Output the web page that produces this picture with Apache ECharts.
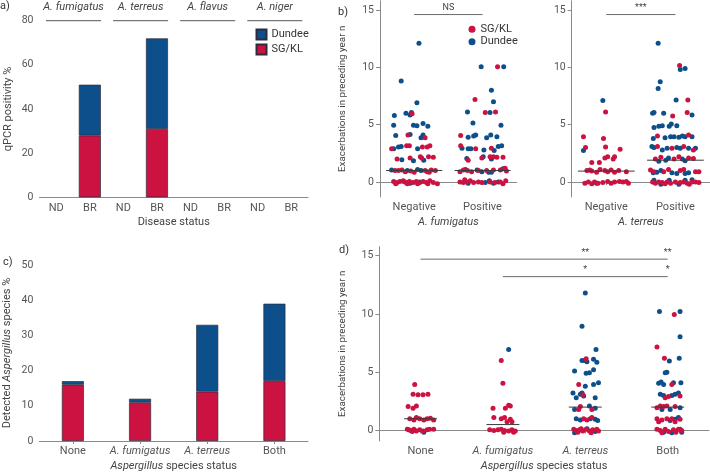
<!DOCTYPE html>
<html><head><meta charset="utf-8">
<script src="https://cdn.jsdelivr.net/npm/echarts@6/dist/echarts.min.js"></script>
<style>html,body{margin:0;padding:0;background:#fff}#c{width:710px;height:473px}</style>
</head><body><div id="c"></div>
<script>
const FONT = 'Roboto, "DejaVu Sans Condensed", sans-serif';
const FS = 11, TFS = 10.5, LONG_FS = 9.8;
const BLUE = '#0c4f8b', RED = '#cb1240';
const AXIS = '#8a8a8a', LABEL = '#555', NAME = '#444';

// ---- Panel a ----
const aCategories = ['ND','BR','ND','BR','ND','BR','ND','BR'];
const aSpecies = ['A. fumigatus','A. terreus','A. flavus','A. niger'];
const aSGKL = [0,28,0,31,0,0,0,0];
const aDundee = [0,23,0,41,0,0,0,0];

// ---- Panel c ----
const cCategories = ['None','A. fumigatus','A. terreus','Both'];
const cSGKL = [16,11,14,17];
const cDundee = [1,1,19,22];

// ---- Panel b ----
const bCategories = ['Negative','Positive'];
const bFumDundee = [[0.57,12.1],[0.31,8.8],[0.54,6.9],[0.21,5.8],[0.38,6.0],[0.44,5.85],[0.46,6.05],[0.20,4.95],[0.49,4.95],[0.54,4.9],[0.63,5.1],[0.70,4.85],[0.23,4.05],[0.44,4.15],[0.60,3.85],[0.63,4.1],[0.20,2.9],[0.27,3.05],[0.31,3.1],[0.55,2.9],[0.32,1.95],[0.49,1.85],[0.64,1.9],[0.17,1.05],[0.40,1.0],[0.55,1.1],[0.60,1.0],[0.44,-0.1],[0.58,0.0],[0.35,0.05],
 [1.48,10.05],[1.81,10.05],[1.63,8.0],[1.66,7.0],[1.28,6.1],[1.61,6.05],[1.36,5.15],[1.77,4.95],[1.29,3.9],[1.37,4.0],[1.40,4.1],[1.56,3.85],[1.62,4.1],[1.71,3.95],[1.20,2.95],[1.29,2.9],[1.33,2.9],[1.52,2.8],[1.67,2.75],[1.73,3.1],[1.78,3.15],[1.27,2.05],[1.51,2.2],[1.63,2.0],[1.25,1.1],[1.42,1.05],[1.49,0.9],[1.59,0.85],[1.63,0.85],[1.80,1.15],[1.29,-0.1],[1.54,-0.05],[1.60,0.1],[1.66,-0.1],[1.73,0.0]];
const bFumSGKL = [[0.47,5.95],[0.41,4.1],[0.66,3.85],[0.17,2.9],[0.39,3.15],[0.43,3.15],[0.62,3.05],[0.69,3.05],[0.73,3.15],[0.25,2.0],[0.44,2.1],[0.59,2.2],[0.61,2.1],[0.71,2.2],[0.78,2.15],[0.22,1.0],[0.27,1.0],[0.32,1.05],[0.37,0.9],[0.45,0.95],[0.50,0.85],[0.66,1.0],[0.69,0.9],[0.75,1.05],[0.81,1.0],[0.72,0.85],[0.20,0.05],[0.25,-0.05],[0.29,0.05],[0.34,0.1],[0.38,-0.05],[0.43,0.05],[0.48,-0.05],[0.53,0.05],[0.58,-0.05],[0.63,0.05],[0.68,-0.05],[0.73,0.1],[0.78,-0.05],[0.84,-0.15],[0.23,-0.15],[0.40,-0.15],[0.55,-0.15],[0.70,-0.15],
 [1.72,10.05],[1.39,7.2],[1.54,6.05],[1.69,6.1],[1.18,4.05],[1.18,3.15],[1.40,2.9],[1.63,2.95],[1.29,1.9],[1.49,2.1],[1.61,2.2],[1.66,2.2],[1.71,2.15],[1.80,2.15],[1.17,0.9],[1.22,1.05],[1.28,1.0],[1.34,0.9],[1.44,1.0],[1.56,1.0],[1.66,1.05],[1.76,1.05],[1.83,1.2],[1.85,0.95],[1.17,0.0],[1.22,-0.05],[1.27,0.0],[1.32,0.1],[1.37,-0.05],[1.44,0.0],[1.49,-0.05],[1.61,0.0],[1.68,-0.05],[1.76,0.0],[1.80,-0.15],[1.24,0.2],[1.84,0.1]];
const bTerDundee = [[0.45,7.1],[0.17,2.75],[0.36,-0.1],
 [1.25,12.1],[1.57,9.8],[1.64,9.9],[1.28,8.75],[1.25,8.15],[1.51,7.15],[1.17,6.0],[1.19,6.05],[1.33,6.0],[1.74,5.85],[1.19,4.75],[1.26,4.85],[1.31,4.9],[1.41,4.85],[1.44,5.05],[1.52,4.9],[1.18,3.8],[1.35,3.85],[1.43,3.95],[1.48,3.95],[1.55,3.9],[1.60,4.0],[1.64,3.95],[1.74,3.95],[1.16,3.1],[1.19,3.0],[1.31,2.8],[1.38,2.95],[1.52,3.0],[1.57,2.95],[1.69,2.95],[1.79,2.95],[1.36,1.9],[1.40,2.1],[1.60,2.0],[1.64,1.85],[1.26,1.8],[1.18,0.8],[1.23,0.85],[1.29,1.0],[1.45,0.8],[1.52,0.75],[1.64,0.75],[1.69,0.8],[1.19,0.15],[1.29,-0.2],[1.41,0.15],[1.55,-0.2],[1.64,0.15],[1.74,0.2]];
const bTerSGKL = [[0.49,6.1],[0.17,3.95],[0.46,3.8],[0.20,3.0],[0.49,3.05],[0.70,2.85],[0.29,1.7],[0.40,1.7],[0.48,2.1],[0.52,2.2],[0.60,2.0],[0.62,2.2],[0.22,1.0],[0.29,0.95],[0.36,0.85],[0.41,1.1],[0.48,1.0],[0.52,0.9],[0.57,1.05],[0.62,0.85],[0.68,1.0],[0.79,0.9],[0.19,-0.1],[0.24,0.0],[0.29,-0.15],[0.33,0.0],[0.38,-0.1],[0.45,-0.05],[0.52,0.05],[0.57,-0.1],[0.62,0.0],[0.69,0.05],[0.74,0.0],[0.79,0.05],[0.82,-0.1],[0.26,1.05],
 [1.56,10.15],[1.68,7.15],[1.46,5.75],[1.67,6.05],[1.24,4.0],[1.69,4.1],[1.24,3.1],[1.45,2.95],[1.62,3.1],[1.76,2.8],[1.21,2.0],[1.29,2.15],[1.48,2.0],[1.55,2.2],[1.69,2.1],[1.76,2.05],[1.14,1.05],[1.19,0.9],[1.33,0.9],[1.40,1.1],[1.57,1.0],[1.62,1.1],[1.79,0.9],[1.84,0.9],[1.17,0.0],[1.21,-0.1],[1.26,0.0],[1.31,-0.05],[1.38,0.0],[1.43,-0.1],[1.50,0.0],[1.57,-0.05],[1.62,0.0],[1.67,-0.1],[1.74,0.0],[1.79,0.0],[1.84,-0.05],[1.35,-0.15],[1.70,-0.2]];
const bFumMedians = [1, 1];
const bTerMedians = [0.95, 1.9];
const bFumSig = [[0.5, 1.5, 14.6, 'NS']];
const bTerSig = [[0.5, 1.5, 14.6, '***']];

// ---- Panel d ----
const dCategories = ['None','A. fumigatus','A. terreus','Both'];
const dSGKL = [[0.43,3.95],[0.41,3.1],[0.47,3.05],[0.53,3.05],[0.59,3.1],[0.35,2.05],[0.41,1.9],[0.45,2.1],[0.37,1.0],[0.42,0.9],[0.45,1.1],[0.49,1.0],[0.54,0.9],[0.58,1.0],[0.62,1.05],[0.66,0.9],[0.34,0.1],[0.38,0.0],[0.42,0.1],[0.45,-0.05],[0.49,0.05],[0.53,-0.05],[0.58,0.05],[0.61,0.1],[0.66,0.1],[0.40,-0.1],[0.36,0.05],
 [1.48,6.0],[1.50,4.05],[1.38,1.9],[1.53,1.9],[1.57,2.15],[1.59,2.1],[1.39,1.1],[1.48,1.0],[1.52,1.1],[1.59,0.95],[1.61,0.75],[1.55,0.75],[1.34,0.05],[1.39,0.0],[1.44,0.05],[1.48,0.1],[1.52,0.0],[1.57,-0.05],[1.61,0.05],[1.65,-0.05],[1.51,-0.15],[1.63,-0.15],
 [2.51,6.15],[2.42,3.95],[2.47,3.05],[2.44,2.05],[2.42,1.8],[2.58,1.8],[2.48,1.0],[2.52,0.9],[2.58,1.1],[2.36,0.1],[2.39,0.0],[2.43,0.05],[2.47,-0.05],[2.51,0.1],[2.55,-0.05],[2.59,0.05],[2.64,0.1],[2.66,-0.05],[2.41,-0.15],[2.57,-0.2],[2.45,0.15],
 [3.58,9.95],[3.37,7.15],[3.46,6.2],[3.55,3.95],[3.47,2.8],[3.51,2.9],[3.65,2.95],[3.37,1.95],[3.41,2.1],[3.45,2.05],[3.49,2.1],[3.59,2.05],[3.37,1.0],[3.39,0.75],[3.43,0.9],[3.49,1.0],[3.55,1.0],[3.59,0.75],[3.65,0.95],[3.37,0.1],[3.41,0.0],[3.47,0.1],[3.51,-0.1],[3.57,0.05],[3.63,0.1],[3.67,0.0],[3.43,-0.2],[3.60,-0.15]];
const dDundee = [[0.54,-0.15],[1.57,6.95],
 [2.50,11.8],[2.46,8.95],[2.63,6.95],[2.46,6.0],[2.49,6.0],[2.52,5.9],[2.60,6.1],[2.64,5.85],[2.37,5.1],[2.51,4.9],[2.55,4.95],[2.60,5.2],[2.50,3.8],[2.60,3.95],[2.66,4.1],[2.35,3.2],[2.44,3.1],[2.46,3.2],[2.48,2.95],[2.39,2.8],[2.62,2.8],[2.37,1.8],[2.55,2.1],[2.62,1.9],[2.39,1.0],[2.44,0.9],[2.56,1.0],[2.62,0.95],[2.65,0.85],[2.37,-0.2],[2.52,0.15],[2.62,-0.1],
 [3.40,10.2],[3.65,10.2],[3.65,8.05],[3.52,5.95],[3.64,6.2],[3.47,4.95],[3.49,5.0],[3.39,4.05],[3.42,4.15],[3.45,3.95],[3.57,4.1],[3.66,4.1],[3.41,3.1],[3.45,3.0],[3.55,3.0],[3.59,3.1],[3.63,3.2],[3.43,1.8],[3.53,1.8],[3.65,1.95],[3.53,0.85],[3.59,0.95],[3.63,1.1],[3.45,-0.15],[3.55,-0.2],[3.65,0.1],[3.67,-0.15]];
const dMedians = [1, 0.5, 2, 2];
const dSigBars = [[0.5, 3.5, 14.7], [1.5, 3.5, 13.2]];
const dSigLabels = [[2.5, 14.7, '**'], [3.5, 14.7, '**'], [2.5, 13.2, '*'], [3.5, 13.2, '*']];

const italicSet = new Set(['A. fumigatus','A. terreus']);
const lbl = (extra) => Object.assign({color: LABEL, fontSize: FS, fontFamily: FONT, rich: {i: {fontStyle: 'italic', color: LABEL, fontSize: FS, fontFamily: FONT}}}, extra || {});
const tickLbl = (extra) => Object.assign({color: LABEL, fontSize: TFS, fontFamily: FONT}, extra || {});
const baseAxis = {
  axisLine: {lineStyle: {color: AXIS, width: 1}},
  axisTick: {length: 4, lineStyle: {color: AXIS}},
  splitLine: {show: false}
};
const nameStyle = (extra, fs) => {
  const f = fs || FS;
  return Object.assign({color: NAME, fontSize: f, fontFamily: FONT,
    rich: {n: {color: NAME, fontSize: f, fontFamily: FONT}, i: {color: NAME, fontSize: f, fontFamily: FONT, fontStyle: 'italic'}}}, extra || {});
};
const catFmt = (v) => italicSet.has(v) ? '{i|' + v + '}' : v;

function medianSeries(xi, medians, hw) {
  return {type: 'custom', xAxisIndex: xi, yAxisIndex: xi, z: 10, silent: true,
    data: medians.map((m, i) => [i + 0.5, m]), encode: {x: 0, y: 1},
    renderItem: (p, api) => {
      const x = api.value(0), y = api.value(1);
      const a = api.coord([x - hw, y]), b = api.coord([x + hw, y]);
      return {type: 'line', shape: {x1: a[0], y1: a[1], x2: b[0], y2: b[1]}, style: {stroke: '#3a3a3a', lineWidth: 1}};
    }};
}
function sigLineSeries(xi, bars) {
  return {type: 'custom', xAxisIndex: xi, yAxisIndex: xi, z: 10, silent: true,
    data: bars.map(b => [b[0], b[1], b[2]]), encode: {x: [0, 1], y: 2},
    renderItem: (p, api) => {
      const a = api.coord([api.value(0), api.value(2)]), b = api.coord([api.value(1), api.value(2)]);
      return {type: 'line', shape: {x1: a[0], y1: a[1], x2: b[0], y2: b[1]}, style: {stroke: '#6a6a6a', lineWidth: 1}};
    }};
}
function sigTextSeries(xi, labels) {
  return {type: 'custom', xAxisIndex: xi, yAxisIndex: xi, z: 10, silent: true,
    data: labels.map(l => [l[0], l[1]]), encode: {x: 0, y: 1},
    renderItem: (p, api) => {
      const c = api.coord([api.value(0), api.value(1)]);
      return {type: 'text', x: c[0], y: c[1] - 2, style: {text: labels[p.dataIndex][2], textAlign: 'center', textVerticalAlign: 'bottom', fontSize: 9, fontFamily: FONT, fill: '#444'}};
    }};
}
const scatter = (name, xi, data, color) => ({name, type: 'scatter', xAxisIndex: xi, yAxisIndex: xi, data, symbolSize: 5, itemStyle: {color, opacity: 1}, z: 3});

const chart = echarts.init(document.getElementById('c'), null, {renderer: 'canvas'});
const barStyle = (color) => ({color, borderColor: '#2c2c3c', borderWidth: 0.7});
const bFumLabels = bFumSig.map(s => [(s[0] + s[1]) / 2, s[2], s[3]]);
const bTerLabels = bTerSig.map(s => [(s[0] + s[1]) / 2, s[2], s[3]]);

chart.setOption({
  animation: false,
  textStyle: {fontFamily: FONT},
  grid: [
    {left: 39.5, top: 20.7, width: 268.5, height: 176.6},
    {left: 380, top: 0.8, width: 136.7, height: 196.1},
    {left: 571.7, top: 0.8, width: 139, height: 196.1},
    {left: 39.3, top: 265, width: 268.7, height: 177},
    {left: 379.3, top: 246.7, width: 329.6, height: 195.3}
  ],
  legend: [
    {data: [{name: 'Dundee', icon: 'rect'}, {name: 'SG/KL', icon: 'rect'}], orient: 'vertical', left: 255.5, top: 28.5, padding: 0,
     itemWidth: 10, itemHeight: 10, itemGap: 3, selectedMode: false, textStyle: {fontSize: FS, color: '#333', fontFamily: FONT, lineHeight: 11}},
    {data: [{name: 'SG/KL', icon: 'circle'}, {name: 'Dundee', icon: 'circle'}], orient: 'vertical', left: 468.5, top: 23.8, padding: 0,
     itemWidth: 7, itemHeight: 7, itemGap: 1.4, selectedMode: false, itemStyle: {borderWidth: 0},
     textStyle: {fontSize: FS, color: '#333', fontFamily: FONT, lineHeight: 11}}
  ],
  xAxis: [
    Object.assign({}, baseAxis, {type: 'category', gridIndex: 0, data: aCategories, axisTick: {show: false},
      axisLabel: lbl({margin: 5, interval: 0}), name: 'Disease status', nameLocation: 'middle', nameGap: 19, nameTextStyle: nameStyle()}),
    Object.assign({}, baseAxis, {type: 'value', gridIndex: 1, min: 0, max: 2,
      axisTick: {show: true, length: 3, lineStyle: {color: AXIS}, customValues: [0.5, 1.5]},
      axisLabel: lbl({margin: 5, customValues: [0.5, 1.5], formatter: v => bCategories[Math.round(v - 0.5)]}),
      name: 'A. fumigatus', nameLocation: 'middle', nameGap: 19.5, nameTextStyle: nameStyle({fontStyle: 'italic'})}),
    Object.assign({}, baseAxis, {type: 'value', gridIndex: 2, min: 0, max: 2,
      axisTick: {show: true, length: 3, lineStyle: {color: AXIS}, customValues: [0.5, 1.5]},
      axisLabel: lbl({margin: 5, customValues: [0.5, 1.5], formatter: v => bCategories[Math.round(v - 0.5)]}),
      name: 'A. terreus', nameLocation: 'middle', nameGap: 19.5, nameTextStyle: nameStyle({fontStyle: 'italic'})}),
    Object.assign({}, baseAxis, {type: 'category', gridIndex: 3, data: cCategories,
      axisTick: {show: true, length: 3, alignWithLabel: true, lineStyle: {color: AXIS}},
      axisLabel: lbl({margin: 5, interval: 0, formatter: catFmt}),
      name: '{i|Aspergillus}{n| species status}', nameLocation: 'middle', nameGap: 20, nameTextStyle: nameStyle()}),
    Object.assign({}, baseAxis, {type: 'value', gridIndex: 4, min: 0, max: 4,
      axisTick: {show: true, length: 3, lineStyle: {color: AXIS}, customValues: [0.5, 1.5, 2.5, 3.5]},
      axisLabel: lbl({margin: 5, customValues: [0.5, 1.5, 2.5, 3.5], formatter: v => catFmt(dCategories[Math.round(v - 0.5)])}),
      name: '{i|Aspergillus}{n| species status}', nameLocation: 'middle', nameGap: 20, nameTextStyle: nameStyle()})
  ],
  yAxis: [
    Object.assign({}, baseAxis, {type: 'value', gridIndex: 0, min: 0, max: 80, interval: 20, axisLabel: tickLbl({margin: 6}),
      name: 'qPCR positivity %', nameLocation: 'middle', nameGap: 26, nameTextStyle: nameStyle()}),
    Object.assign({}, baseAxis, {type: 'value', gridIndex: 1, min: -1.3, max: 15.8,
      axisTick: {show: true, length: 4, lineStyle: {color: AXIS}, customValues: [0, 5, 10, 15]},
      axisLabel: tickLbl({margin: 6, customValues: [0, 5, 10, 15]}),
      name: 'Exacerbations in preceding year n', nameLocation: 'middle', nameGap: 32, nameTextStyle: nameStyle(null, LONG_FS)}),
    Object.assign({}, baseAxis, {type: 'value', gridIndex: 2, min: -1.3, max: 15.8,
      axisTick: {show: true, length: 4, lineStyle: {color: AXIS}, customValues: [0, 5, 10, 15]},
      axisLabel: tickLbl({margin: 6, customValues: [0, 5, 10, 15]})}),
    Object.assign({}, baseAxis, {type: 'value', gridIndex: 3, min: 0, max: 50, interval: 10, axisLabel: tickLbl({margin: 6}),
      name: '{n|Detected }{i|Aspergillus}{n| species %}', nameLocation: 'middle', nameGap: 27, nameTextStyle: nameStyle()}),
    Object.assign({}, baseAxis, {type: 'value', gridIndex: 4, min: -0.91, max: 15.77,
      axisTick: {show: true, length: 4, lineStyle: {color: AXIS}, customValues: [0, 5, 10, 15]},
      axisLabel: tickLbl({margin: 6, customValues: [0, 5, 10, 15]}),
      name: 'Exacerbations in preceding year n', nameLocation: 'middle', nameGap: 31.5, nameTextStyle: nameStyle(null, LONG_FS)})
  ],
  series: [
    {name: 'SG/KL', type: 'bar', xAxisIndex: 0, yAxisIndex: 0, stack: 'a', barWidth: 22, data: aSGKL.map(v => v || '-'), itemStyle: barStyle(RED)},
    {name: 'Dundee', type: 'bar', xAxisIndex: 0, yAxisIndex: 0, stack: 'a', barWidth: 22, data: aDundee.map(v => v || '-'), itemStyle: barStyle(BLUE)},
    {name: 'SG/KL', type: 'bar', xAxisIndex: 3, yAxisIndex: 3, stack: 'c', barWidth: 22, data: cSGKL, itemStyle: barStyle(RED)},
    {name: 'Dundee', type: 'bar', xAxisIndex: 3, yAxisIndex: 3, stack: 'c', barWidth: 22, data: cDundee, itemStyle: barStyle(BLUE)},
    scatter('Dundee', 1, bFumDundee, BLUE), scatter('SG/KL', 1, bFumSGKL, RED),
    scatter('Dundee', 2, bTerDundee, BLUE), scatter('SG/KL', 2, bTerSGKL, RED),
    scatter('Dundee', 4, dDundee, BLUE), scatter('SG/KL', 4, dSGKL, RED),
    medianSeries(1, bFumMedians, 0.41), medianSeries(2, bTerMedians, 0.41), medianSeries(4, dMedians, 0.2),
    sigLineSeries(1, bFumSig), sigLineSeries(2, bTerSig), sigLineSeries(4, dSigBars),
    sigTextSeries(1, bFumLabels), sigTextSeries(2, bTerLabels), sigTextSeries(4, dSigLabels)
  ],
  graphic: [
    {type: 'text', left: 0, top: 1, style: {text: 'a)', fontSize: FS, fontFamily: FONT, fill: '#333'}},
    {type: 'text', left: 338, top: 7, style: {text: 'b)', fontSize: FS, fontFamily: FONT, fill: '#333'}},
    {type: 'text', left: 3, top: 257, style: {text: 'c)', fontSize: FS, fontFamily: FONT, fill: '#333'}},
    {type: 'text', left: 339, top: 245, style: {text: 'd)', fontSize: FS, fontFamily: FONT, fill: '#333'}}
  ].concat(aSpecies.map((s, g) => ({type: 'text', x: 73.5 + g * 67.1, y: 7, style: {text: s, fontSize: FS, fontStyle: 'italic', fontFamily: FONT, fill: NAME, textAlign: 'center', textVerticalAlign: 'middle'}})))
   .concat(aSpecies.map((s, g) => ({type: 'line', shape: {x1: 46 + g * 67.1, y1: 20.7, x2: 101 + g * 67.1, y2: 20.7}, style: {stroke: '#555', lineWidth: 1}})))
});
</script></body></html>
